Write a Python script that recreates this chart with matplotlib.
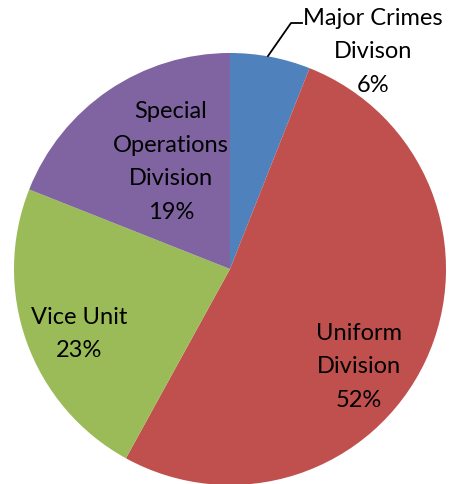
import matplotlib.pyplot as plt

divisions = ["Major Crimes\nDivison", "Uniform\nDivision", "Vice Unit", "Special\nOperations\nDivision"]
shares = [6, 52, 23, 19]
colors = ["#4f81bd", "#c0504d", "#9bbb59", "#8064a2"]

W, H = 451, 485
fig = plt.figure(figsize=(W / 100, H / 100), dpi=100)
ax = fig.add_axes([0, 0, 1, 1])

cx, cy, r = 230, 270, 216
# y axis is flipped below, so angles run mirrored: start at -90, go ccw
ax.pie(shares, colors=colors, startangle=-90, counterclock=True,
       center=(cx, cy), radius=r, frame=True,
       wedgeprops=dict(linewidth=0))
ax.set_xlim(0, W)
ax.set_ylim(H, 0)
ax.set_aspect("equal")
ax.axis("off")

font = dict(family=["Lato", "DejaVu Sans"], fontsize=17, ha="center", va="center",
            linespacing=1.75)
# label positions (pixel coords of block centres)
pos = [(373, 52), (359, 367), (79, 334), (171, 162)]
for name, pct, (x, y) in zip(divisions, shares, pos):
    ax.text(x, y, f"{name}\n{pct}%", **font)

# leader line for the small slice
ax.plot([268, 291, 302], [57, 24, 24], color="black", lw=1.3)

fig.savefig("out.png", dpi=100)
